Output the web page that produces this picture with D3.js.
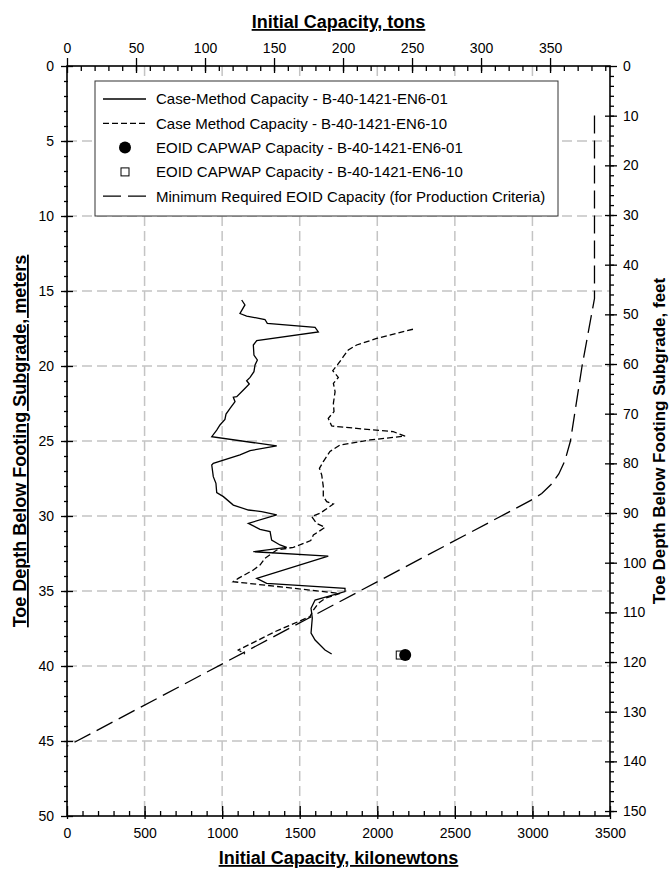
<!DOCTYPE html>
<html>
<head>
<meta charset="utf-8">
<script src="https://cdn.jsdelivr.net/npm/d3@7"></script>
<style>
    body { margin: 0; background: #fff; }
    svg text { font-family: "Liberation Sans", Arial, sans-serif; fill: #000; }
</style>
</head>
<body>
<div id="viz-container"></div>
<script>
// capacity in kN, depth in meters
var caseMethod01 = [
    [1126,15.6],[1147,15.93],[1115,16.5],[1158,16.67],[1276,16.9],[1291,17.16],[1599,17.42],[1620,17.73],
    [1223,18.31],[1201,18.6],[1205,19.27],[1227,19.6],[1212,19.93],[1205,20.38],[1180,20.76],[1158,20.98],
    [1175,21.2],[1137,21.6],[1094,22.04],[1072,22.08],[1083,22.38],[1051,22.82],[1025,23.2],[1018,23.56],
    [986,23.93],[965,24.27],[933,24.71],[1352,25.33],[1180,25.64],[1115,25.93],[943,26.49],[933,26.6],
    [943,27.38],[960,27.82],[965,28.44],[1008,28.71],[1072,29.27],[1169,29.6],[1255,29.71],[1352,29.93],
    [1169,30.49],[1244,30.89],[1309,31.04],[1319,31.6],[1373,31.93],[1416,32.09],[1201,32.38],[1684,32.67],
    [1223,34.16],[1287,34.49],[1792,34.82],[1792,35.04],[1599,35.6],[1573,36.15],[1581,36.8],[1573,37.8],
    [1599,38.27],[1663,38.93],[1706,39.2]
];
var caseMethod10 = [
    [2230,17.55],[1996,18.16],[1867,18.6],[1813,18.93],[1781,19.38],[1743,19.93],[1713,20.31],[1749,20.76],
    [1717,21.16],[1728,21.71],[1717,22.49],[1721,23.04],[1684,23.49],[1706,24.0],[1867,24.16],[2103,24.38],
    [2179,24.67],[1953,24.93],[1760,25.27],[1695,25.7],[1652,26.38],[1627,26.82],[1642,27.27],[1652,28.04],
    [1652,28.71],[1674,29.04],[1717,29.2],[1631,29.82],[1577,30.04],[1609,30.49],[1663,30.76],[1588,31.27],
    [1571,31.64],[1459,32.09],[1352,32.27],[1276,32.82],[1244,33.27],[1201,33.6],[1104,34.16],[1072,34.38],
    [1760,35.16],[1663,35.49],[1620,35.82],[1588,36.27],[1566,36.71],[1491,37.04],[1341,37.71],[1233,38.27],
    [1104,38.93],[1147,39.2]
];
var minRequired = [
    [3400,3.3],[3400,15.5],[3320,20],[3245,25],[3210,26.3],[3170,27.2],[3120,27.9],[3060,28.5],[3000,28.9],[0,45.35]
];
var capwap01 = [[2180,39.27]];
var capwap10 = [[2148,39.27]];

var legendLabels = [
    "Case-Method Capacity - B-40-1421-EN6-01",
    "Case Method Capacity - B-40-1421-EN6-10",
    "EOID CAPWAP Capacity - B-40-1421-EN6-01",
    "EOID CAPWAP Capacity - B-40-1421-EN6-10",
    "Minimum Required EOID Capacity (for Production Criteria)"
];

var kNPerTon = 8.896;
var feetAtBottom = 151;   // right axis

function drawChart(id, width, height)
{
    var left = 67, right = 610, top = 66, bottom = 816;

    var x = d3.scaleLinear().domain([0, 3500]).range([left, right]);
    var y = d3.scaleLinear().domain([0, 50]).range([top, bottom]);
    var xTons = d3.scaleLinear().domain([0, 3500 / kNPerTon]).range([left, right]);
    var yFeet = d3.scaleLinear().domain([0, feetAtBottom]).range([top, bottom]);

    var svg = d3.select(id).append("svg")
                .attr("width", width)
                .attr("height", height);

    // grid
    var grid = svg.append("g").attr("class", "grid");
    grid.selectAll(".vgrid")
        .data(d3.range(500, 3500, 500))
        .enter().append("line")
        .attr("x1", function(d) { return x(d); })
        .attr("x2", function(d) { return x(d); })
        .attr("y1", top).attr("y2", bottom);
    grid.selectAll(".hgrid")
        .data(d3.range(5, 50, 5))
        .enter().append("line")
        .attr("y1", function(d) { return y(d); })
        .attr("y2", function(d) { return y(d); })
        .attr("x1", left).attr("x2", right);
    grid.selectAll("line")
        .style("stroke", "#c4c4c4")
        .style("stroke-width", 1.5)
        .style("stroke-dasharray", "10,5");

    // axes: minor ticks first, then majors with labels
    function styleAxis(g, size) {
        g.select(".domain").remove();
        g.selectAll("text").style("font-size", size + "px");
        g.selectAll("line").style("stroke", "#000").style("stroke-width", 1.3);
    }
    var fmt = d3.format("d");

    var minorBottom = svg.append("g").attr("transform", "translate(0," + bottom + ")")
        .call(d3.axisBottom(x).tickValues(d3.range(100, 3500, 100)).tickFormat("").tickSize(-5));
    styleAxis(minorBottom, 14);
    var majorBottom = svg.append("g").attr("transform", "translate(0," + bottom + ")")
        .call(d3.axisBottom(x).tickValues(d3.range(0, 3501, 500)).tickFormat(fmt).tickSize(3).tickPadding(9));
    styleAxis(majorBottom, 14);
    majorBottom.selectAll("line").attr("y1", -10);

    var minorTop = svg.append("g").attr("transform", "translate(0," + top + ")")
        .call(d3.axisTop(xTons).tickValues(d3.range(10, 393, 10)).tickFormat("").tickSize(-5));
    styleAxis(minorTop, 14);
    var majorTop = svg.append("g").attr("transform", "translate(0," + top + ")")
        .call(d3.axisTop(xTons).tickValues(d3.range(0, 351, 50)).tickFormat(fmt).tickSize(8).tickPadding(5));
    styleAxis(majorTop, 14);
    majorTop.selectAll("line").attr("y1", 7);

    var minorLeft = svg.append("g").attr("transform", "translate(" + left + ",0)")
        .call(d3.axisLeft(y).tickValues(d3.range(1, 50, 1)).tickFormat("").tickSize(3));
    styleAxis(minorLeft, 14);
    minorLeft.selectAll("line").attr("x1", 1);
    var majorLeft = svg.append("g").attr("transform", "translate(" + left + ",0)")
        .call(d3.axisLeft(y).tickValues(d3.range(0, 51, 5)).tickFormat(fmt).tickSize(6).tickPadding(7));
    styleAxis(majorLeft, 14);
    majorLeft.selectAll("line").attr("x1", 6);

    var minorRight = svg.append("g").attr("transform", "translate(" + right + ",0)")
        .call(d3.axisRight(yFeet).tickValues(d3.range(2, feetAtBottom, 2)).tickFormat("").tickSize(4));
    styleAxis(minorRight, 14);
    var majorRight = svg.append("g").attr("transform", "translate(" + right + ",0)")
        .call(d3.axisRight(yFeet).tickValues(d3.range(0, 151, 10)).tickFormat(fmt).tickSize(7).tickPadding(6));
    styleAxis(majorRight, 14);
    majorRight.selectAll("line").attr("x1", -5);

    // frame
    svg.append("rect")
        .attr("x", left).attr("y", top)
        .attr("width", right - left).attr("height", bottom - top)
        .style("fill", "none")
        .style("stroke", "#000")
        .style("stroke-width", 1.6);

    // curves
    var line = d3.line()
                 .x(function(d) { return x(d[0]); })
                 .y(function(d) { return y(d[1]); });

    var series = [
        { data: caseMethod01, dash: null },
        { data: caseMethod10, dash: "6,3" },
        { data: minRequired, dash: "18,7" }
    ];
    svg.selectAll(".curve")
        .data(series)
        .enter().append("path")
        .attr("class", "curve")
        .attr("d", function(d) { return line(d.data); })
        .style("fill", "none")
        .style("stroke", "#000")
        .style("stroke-width", 1.3)
        .style("stroke-dasharray", function(d) { return d.dash; });

    svg.selectAll(".sq")
        .data(capwap10)
        .enter().append("rect")
        .attr("x", function(d) { return x(d[0]) - 4; })
        .attr("y", function(d) { return y(d[1]) - 4; })
        .attr("width", 8).attr("height", 8)
        .style("fill", "#fff").style("stroke", "#000").style("stroke-width", 1);
    svg.selectAll(".dot")
        .data(capwap01)
        .enter().append("circle")
        .attr("cx", function(d) { return x(d[0]); })
        .attr("cy", function(d) { return y(d[1]); })
        .attr("r", 6)
        .style("fill", "#000");

    // legend
    var legend = svg.append("g");
    legend.append("rect")
        .attr("x", 95).attr("y", 81)
        .attr("width", 463).attr("height", 135)
        .style("fill", "#fff")
        .style("stroke", "#333")
        .style("stroke-width", 1);

    var rows = legend.selectAll(".row")
        .data(legendLabels)
        .enter().append("g")
        .attr("transform", function(d, i) { return "translate(0," + (99 + i * 24.3) + ")"; });
    rows.append("text")
        .attr("x", 156).attr("dy", "0.36em")
        .style("font-size", "15px")
        .text(function(d) { return d; });

    var sample = [null, "6,3", "dot", "sq", "18,7"];
    rows.each(function(d, i) {
        var r = d3.select(this);
        if (sample[i] === "dot") {
            r.append("circle").attr("cx", 125).attr("r", 6).style("fill", "#000");
        } else if (sample[i] === "sq") {
            r.append("rect").attr("x", 121).attr("y", -4).attr("width", 8).attr("height", 8)
             .style("fill", "#fff").style("stroke", "#000");
        } else {
            r.append("line").attr("x1", 103).attr("x2", 146)
             .style("stroke", "#000").style("stroke-width", 1.3)
             .style("stroke-dasharray", sample[i]);
        }
    });

    // titles
    var titleStyle = function(t) {
        t.style("font-size", "18px").style("font-weight", "bold")
         .style("text-decoration", "underline").attr("text-anchor", "middle");
    };
    svg.append("text").attr("x", (left + right) / 2).attr("y", 28)
        .call(titleStyle).text("Initial Capacity, tons");
    svg.append("text").attr("x", (left + right) / 2).attr("y", 864)
        .call(titleStyle).text("Initial Capacity, kilonewtons");
    svg.append("text").attr("transform", "translate(26," + ((top + bottom) / 2) + ") rotate(-90)")
        .call(titleStyle).text("Toe Depth Below Footing Subgrade, meters");
    svg.append("text").attr("transform", "translate(665," + ((top + bottom) / 2) + ") rotate(-90)")
        .call(titleStyle).style("font-size", "17px").style("text-decoration", "none")
        .text("Toe Depth Below Footing Subgrade, feet");
}

drawChart("#viz-container", 670, 871);
</script>
</body>
</html>
